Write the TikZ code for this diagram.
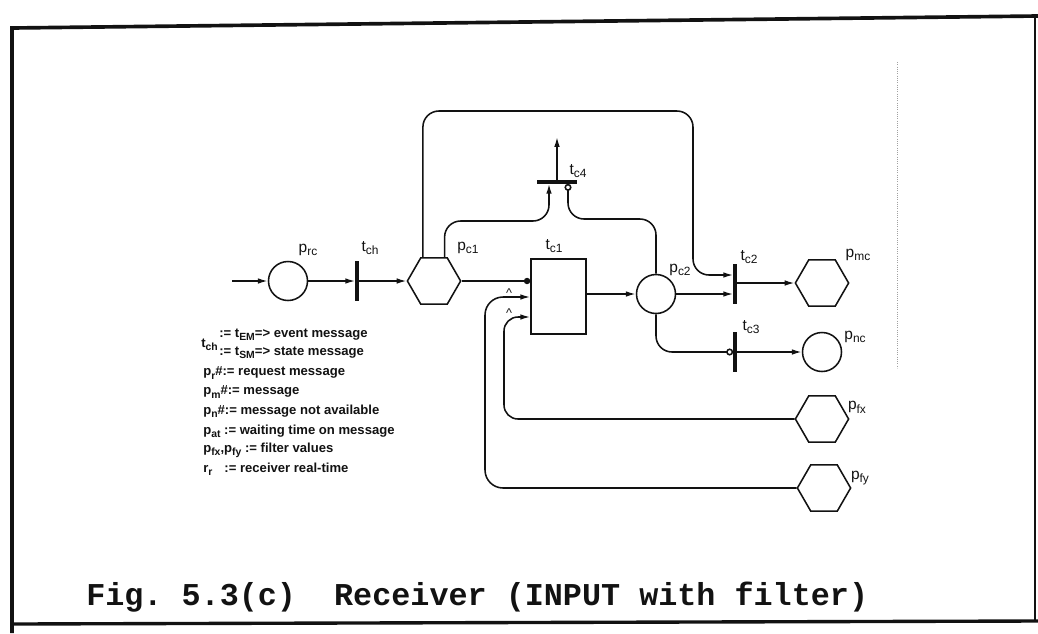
\documentclass[tikz,border=0pt]{standalone}
\usepackage{fontspec}
\setmainfont{Liberation Sans}
\newfontfamily\capfont{Liberation Mono}
\usetikzlibrary{arrows.meta,calc,positioning,shapes.geometric}
\definecolor{inkBlack}{RGB}{18,18,18}
\definecolor{scanGray}{RGB}{160,160,160}
\newcommand{\pnsub}[2]{#1\raisebox{-0.45ex}{\fontsize{8.5}{8.5}\selectfont #2}}
\newcommand{\legsub}[2]{#1\raisebox{-0.45ex}{\fontsize{7.4}{7.4}\selectfont #2}}

\begin{document}
\begin{tikzpicture}[x=0.025cm,y=-0.025cm,inkBlack,
  place/.style={circle,draw,line width=1.1pt,minimum size=0.975cm,inner sep=0pt},
  hexplace/.style={regular polygon,regular polygon sides=6,draw,line width=1.1pt,
    minimum size=1.33cm,inner sep=0pt},
  vbar/.style={fill=inkBlack,inner sep=0pt,minimum width=2.2pt,minimum height=1cm},
  hbar/.style={fill=inkBlack,inner sep=0pt,minimum width=1cm,minimum height=2.2pt},
  tbox/.style={rectangle,draw,line width=1.1pt,minimum width=1.375cm,minimum height=1.875cm},
  arc/.style={line width=1.1pt,-{Latex[length=7pt,width=4pt]}},
  inhib/.style={line width=1.1pt,-{Circle[open,length=5pt,width=5pt]}},
  testarc/.style={line width=1.1pt,-{Circle[length=4.5pt,width=4.5pt]}},
  lab/.style={font=\fontsize{11}{12}\selectfont,inner sep=0pt},
  leg/.style={anchor=west,font=\bfseries\fontsize{9.3}{10}\selectfont,inner sep=0pt}]
  \useasboundingbox (0,0) rectangle (1038,633);

  % frame of the scanned page
  \draw[line width=2.6pt] (12,633) -- (12,28) -- (1038,16);
  \draw[line width=2.4pt] (12,624) -- (1038,621);
  \draw[line width=1.6pt] (1035,17) -- (1035,621);
  \draw[scanGray,densely dotted,line width=0.6pt] (897,62) -- (897,368);

  % places and transitions
  \node[place] (prc) at (288,281) {};
  \node[vbar] (tch) at (357,281) {};
  \node[hexplace] (pc1) at (434,281) {};
  \node[tbox] (tc1) at (558.5,296.5) {};
  \node[place] (pc2) at (656,294) {};
  \node[vbar] (tc2) at (735,284) {};
  \node[vbar] (tc3) at (735,352) {};
  \node[hbar] (tc4) at (557,182) {};
  \node[hexplace] (pmc) at (822,283) {};
  \node[place] (pnc) at (822,352) {};
  \node[hexplace] (pfx) at (822,419) {};
  \node[hexplace] (pfy) at (824,488) {};

  \node[lab] (lprc) at (308,250) {\pnsub{p}{rc}};
  \node[lab] (ltch) at (370,248) {\pnsub{t}{ch}};
  \node[lab] (lpc1) at (468,248) {\pnsub{p}{c1}};
  \node[lab] (ltc1) at (554,246) {\pnsub{t}{c1}};
  \node[lab] (ltc4) at (578,171) {\pnsub{t}{c4}};
  \node[lab] (lpc2) at (680,270) {\pnsub{p}{c2}};
  \node[lab] (ltc2) at (749,257) {\pnsub{t}{c2}};
  \node[lab] (ltc3) at (751,327) {\pnsub{t}{c3}};
  \node[lab] (lpmc) at (858,255) {\pnsub{p}{mc}};
  \node[lab] (lpnc) at (855,337) {\pnsub{p}{nc}};
  \node[lab] (lpfx) at (857,407) {\pnsub{p}{fx}};
  \node[lab] (lpfy) at (860,478) {\pnsub{p}{fy}};

  % main flow
  \coordinate (src) at (232,281);
  \draw[arc] (src) -- (prc.west);
  \draw[arc] (prc.east) -- (tch.west);
  \draw[arc] (tch.east) -- (pc1.west);
  \draw[testarc] (pc1.east) -- (pc1.east -| tc1.west);
  \draw[arc] (tc1.east |- pc2.west) -- (pc2.west);
  \draw[arc] (pc2.east) -- (pc2.east -| tc2.west);
  \draw[arc] (tc2.east |- pmc.west) -- (pmc.west);
  \draw[inhib,rounded corners=0.4cm] (pc2.south) |- (tc3.west);
  \draw[arc] (tc3.east) -- (pnc.west);

  % loop over the top into t_c2
  \coordinate (loopr) at (693,111);
  \coordinate (tc2in) at ($(tc2.west)+(0,-9)$);
  \draw[arc,rounded corners=0.4cm] (pc1.115) |- (loopr) |- (tc2in);

  % arcs into t_c4
  \coordinate (tc4a) at (549,221);
  \coordinate (tc4b) at (568,219);
  \coordinate (tc4out) at (557,137);
  \draw[arc,rounded corners=0.4cm] (pc1.66) |- (tc4a) -- (tc4a |- tc4.south);
  \draw[inhib,rounded corners=0.4cm] (pc2.north) |- (tc4b) -- (tc4b |- tc4.south);
  \draw[arc] (tc4.north) -- (tc4out);

  % filter values into t_c1
  \coordinate (fyturn) at (485,297);
  \coordinate (fxturn) at (504,317);
  \draw[arc,rounded corners=0.45cm] (pfy.west) -| (fyturn) -- (fyturn -| tc1.west);
  \draw[arc,rounded corners=0.35cm] (pfx.west) -| (fxturn) -- (fxturn -| tc1.west);
  \node[inner sep=0pt,font=\fontsize{9}{9}\selectfont] (hat1) at (509,293) {\textasciicircum};
  \node[inner sep=0pt,font=\fontsize{9}{9}\selectfont] (hat2) at (509,313) {\textasciicircum};

  % legend
  \node[leg,anchor=west] (leg0) at (201,345) {\legsub{t}{ch}};
  \node[leg] (leg1) at (219,335) {:= \legsub{t}{EM}=> event message};
  \node[leg] (leg2) at (219,353) {:= \legsub{t}{SM}=> state message};
  \node[leg] (leg3) at (203,373) {\legsub{p}{r}\#:= request message};
  \node[leg] (leg4) at (203,392) {\legsub{p}{m}\#:= message};
  \node[leg] (leg5) at (203,411) {\legsub{p}{n}\#:= message not available};
  \node[leg] (leg6) at (203,431) {\legsub{p}{at} := waiting time on message};
  \node[leg] (leg7) at (203,450) {\legsub{p}{fx},\legsub{p}{fy} := filter values};
  \node[leg] (leg8) at (203,469) {\legsub{r}{r}\hspace{6pt} := receiver real-time};

  \node[anchor=west,inner sep=0pt] (caption) at (86,597)
    {\capfont\bfseries\fontsize{22.6}{24}\selectfont Fig.~5.3(c)~~Receiver (INPUT with filter)};
\end{tikzpicture}
\end{document}
